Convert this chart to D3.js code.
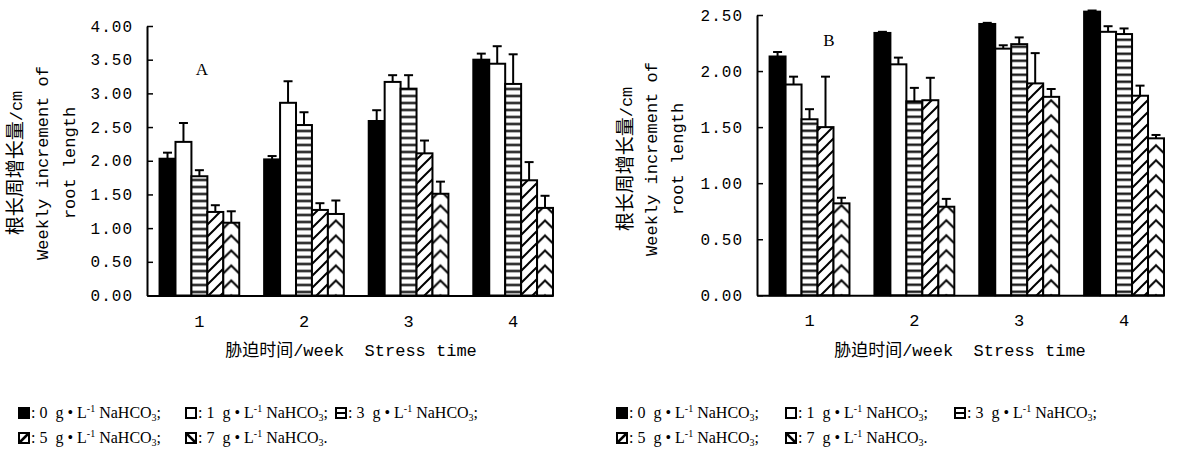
<!DOCTYPE html>
<html><head><meta charset="utf-8">
<script src="https://cdn.jsdelivr.net/npm/d3@7"></script>
<style>body{margin:0;background:#fff}</style>
</head><body>
<svg id="c" width="1188" height="466" xmlns="http://www.w3.org/2000/svg"></svg>
<script>
// ---- data ----
const weeks = ["1", "2", "3", "4"];
const concentrations = ["0", "1", "3", "5", "7"];
// panel A means per concentration series (rows) for weeks 1-4
const meansA = [
  [2.03, 2.02, 2.59, 3.50],
  [2.28, 2.86, 3.17, 3.44],
  [1.77, 2.53, 3.07, 3.14],
  [1.24, 1.27, 2.11, 1.71],
  [1.08, 1.21, 1.51, 1.30]
];
const errA = [
  [0.09, 0.05, 0.16, 0.09],
  [0.28, 0.32, 0.10, 0.26],
  [0.09, 0.19, 0.20, 0.44],
  [0.10, 0.10, 0.19, 0.27],
  [0.17, 0.20, 0.18, 0.18]
];
const meansB = [
  [2.13, 2.34, 2.42, 2.53],
  [1.88, 2.06, 2.20, 2.35],
  [1.57, 1.73, 2.24, 2.33],
  [1.50, 1.74, 1.89, 1.78],
  [0.82, 0.79, 1.77, 1.40]
];
const errB = [
  [0.04, 0.01, 0.01, 0.01],
  [0.07, 0.06, 0.03, 0.05],
  [0.09, 0.12, 0.06, 0.05],
  [0.45, 0.20, 0.27, 0.09],
  [0.05, 0.07, 0.07, 0.03]
];
const ticksA = [0, 0.5, 1, 1.5, 2, 2.5, 3, 3.5, 4];
const ticksB = [0, 0.5, 1, 1.5, 2, 2.5];
const yTitleLines = ["根长周增长量/cm", "Weekly increment of", "root length"];
const xTitle = "胁迫时间/week  Stress time";

// ---- drawing ----
const svg = d3.select("#c");
const defs = svg.append("defs");
const MONO = "'Liberation Mono','Noto Sans CJK SC',monospace";
const SERIF = "'Liberation Serif','Noto Sans CJK SC',serif";
const NB = "\u00a0";
let pid = 0;

// shared diagonal pattern
const diag = defs.append("pattern").attr("id", "diag").attr("patternUnits", "userSpaceOnUse")
  .attr("width", 12).attr("height", 12);
diag.append("rect").attr("width", 12).attr("height", 12).attr("fill", "#fff");
diag.append("path").attr("d", "M-3,3 L3,-3 M0,12 L12,0 M9,15 L15,9")
  .attr("stroke", "#000").attr("stroke-width", 2);

function makePattern(s, bx, base, bw) {
  const id = "p" + (pid++);
  if (s === 2) {
    const p = defs.append("pattern").attr("id", id).attr("patternUnits", "userSpaceOnUse")
      .attr("x", bx).attr("y", base).attr("width", bw).attr("height", 7);
    p.append("rect").attr("width", bw).attr("height", 7).attr("fill", "#fff");
    p.append("line").attr("x1", 0).attr("x2", bw).attr("y1", 3.5).attr("y2", 3.5)
      .attr("stroke", "#000").attr("stroke-width", 2.2);
  } else if (s === 4) {
    const h = 15;
    const p = defs.append("pattern").attr("id", id).attr("patternUnits", "userSpaceOnUse")
      .attr("x", bx).attr("y", base).attr("width", bw).attr("height", h);
    p.append("rect").attr("width", bw).attr("height", h).attr("fill", "#fff");
    const d = [-h, 0, h].map(y0 => `M0,${y0 + 8} L${bw / 2},${y0} L${bw},${y0 + 8}`).join(" ");
    p.append("path").attr("d", d).attr("fill", "none").attr("stroke", "#000").attr("stroke-width", 2);
  } else {
    return "url(#diag)";
  }
  return `url(#${id})`;
}

function panel(cfg) {
  const x = d3.scaleBand().domain(weeks).range([cfg.x0, cfg.x1])
    .paddingInner(0.238).paddingOuter(0.06).align(1);
  const xs = d3.scaleBand().domain(d3.range(concentrations.length)).range([0, x.bandwidth()]);
  const y = d3.scaleLinear().domain([0, cfg.ymax]).range([cfg.yb, cfg.yt]);
  const bw = xs.bandwidth();
  const g = svg.append("g");

  const flat = [];
  cfg.means.forEach((arr, s) => arr.forEach((v, i) => flat.push({ s, i, v, e: cfg.errs[s][i] })));

  flat.forEach(d => {
    d.bx = x(weeks[d.i]) + xs(d.s);
    d.fill = d.s === 0 ? "#000" : d.s === 1 ? "#fff" : makePattern(d.s, d.bx, y(0), bw);
  });

  g.selectAll("rect.bar").data(flat).join("rect").attr("class", "bar")
    .attr("x", d => d.bx).attr("y", d => y(d.v))
    .attr("width", bw).attr("height", d => y(0) - y(d.v))
    .attr("fill", d => d.fill).attr("stroke", "#000").attr("stroke-width", 2);

  // error bars (upper only)
  g.selectAll("line.ev").data(flat).join("line").attr("class", "ev")
    .attr("x1", d => d.bx + bw / 2).attr("x2", d => d.bx + bw / 2)
    .attr("y1", d => y(d.v)).attr("y2", d => y(d.v + d.e))
    .attr("stroke", "#000").attr("stroke-width", 2);
  g.selectAll("line.ec").data(flat).join("line").attr("class", "ec")
    .attr("x1", d => d.bx + bw / 2 - 4.5).attr("x2", d => d.bx + bw / 2 + 4.5)
    .attr("y1", d => y(d.v + d.e)).attr("y2", d => y(d.v + d.e))
    .attr("stroke", "#000").attr("stroke-width", 2);

  // y axis
  const ya = g.append("g").attr("transform", `translate(${cfg.x0},0)`)
    .call(d3.axisLeft(y).tickValues(cfg.ticks).tickFormat(d3.format(".2f"))
      .tickSize(-6).tickSizeOuter(0).tickPadding(14));
  ya.select(".domain").attr("stroke-width", 2);
  ya.selectAll(".tick line").attr("stroke-width", 1.5);
  ya.selectAll("text").attr("font-family", MONO).attr("font-size", 16)
    .attr("letter-spacing", 1).attr("fill", "#000");

  // x axis
  const xa = g.append("g").attr("transform", `translate(0,${y(0)})`)
    .call(d3.axisBottom(x).tickSize(0).tickSizeOuter(0).tickPadding(19));
  xa.select(".domain").attr("stroke-width", 2);
  xa.selectAll("text").attr("font-family", MONO).attr("font-size", 17).attr("fill", "#000");

  // panel letter
  g.append("text").attr("x", cfg.letterX).attr("y", cfg.letterY).attr("text-anchor", "middle")
    .attr("font-family", SERIF).attr("font-size", 17).attr("fill", "#000").text(cfg.letter);

  // y title
  yTitleLines.forEach((t, k) => {
    const tt = g.append("text")
      .attr("transform", `translate(${cfg.ytx[k]},${cfg.ytc}) rotate(-90)`)
      .attr("text-anchor", "middle").attr("dominant-baseline", "central")
      .attr("font-family", MONO).attr("font-size", 17).attr("fill", "#000");
    if (k === 0) {
      tt.append("tspan").attr("font-size", 19).text(t.slice(0, 6));
      tt.append("tspan").text(t.slice(6));
    } else tt.text(t);
  });

  // x title
  g.append("text").attr("x", cfg.xtc).attr("y", 356).attr("text-anchor", "middle")
    .attr("font-family", MONO).attr("font-size", 17).attr("fill", "#000")
    .style("white-space", "pre").text(xTitle);

  // legend
  const rows = [[0, 1, 2], [3, 4]];
  const rowY = [413, 438];
  rows.forEach((row, r) => {
    row.forEach((s, k) => {
      const sx = cfg.legX[k];
      const cy = rowY[r];
      const lg = g.append("g");
      lg.append("rect").attr("x", sx + 1).attr("y", cy - 5).attr("width", 10).attr("height", 10)
        .attr("fill", s === 0 ? "#000" : "#fff").attr("stroke", "#000").attr("stroke-width", 2);
      if (s === 2) lg.append("line").attr("x1", sx + 1).attr("x2", sx + 11).attr("y1", cy).attr("y2", cy)
        .attr("stroke", "#000").attr("stroke-width", 2);
      if (s === 3) lg.append("line").attr("x1", sx + 1).attr("x2", sx + 11).attr("y1", cy + 5).attr("y2", cy - 5)
        .attr("stroke", "#000").attr("stroke-width", 2.5);
      if (s === 4) lg.append("line").attr("x1", sx + 1).attr("x2", sx + 11).attr("y1", cy - 5).attr("y2", cy + 5)
        .attr("stroke", "#000").attr("stroke-width", 2.5);
      const t = lg.append("text").attr("x", sx + 13).attr("y", cy + 5)
        .attr("font-family", SERIF).attr("font-size", 16)
        .attr("fill", "#000");
      t.append("tspan").text(`:${NB}${concentrations[s]}${NB}${NB}g${NB}•${NB}L`);
      t.append("tspan").attr("font-size", 10).attr("dy", -6).text("-1");
      t.append("tspan").attr("dy", 6).text(`${NB}NaHCO`);
      t.append("tspan").attr("font-size", 10).attr("dy", 3).text("3");
      t.append("tspan").attr("dy", -3).text(s === 4 ? "." : ";");
    });
  });
}

panel({
  x0: 147, x1: 553, yb: 295.5, yt: 26, ymax: 4, ticks: ticksA,
  means: meansA, errs: errA, letter: "A", letterX: 202, letterY: 75,
  ytx: [17, 43, 70], ytc: 163, xtc: 351, legX: [18, 185, 335]
});
panel({
  x0: 757, x1: 1164, yb: 295.3, yt: 15, ymax: 2.5, ticks: ticksB,
  means: meansB, errs: errB, letter: "B", letterX: 829, letterY: 46,
  ytx: [627, 652, 678], ytc: 159, xtc: 960, legX: [616, 785, 954]
});
</script>
</body></html>
